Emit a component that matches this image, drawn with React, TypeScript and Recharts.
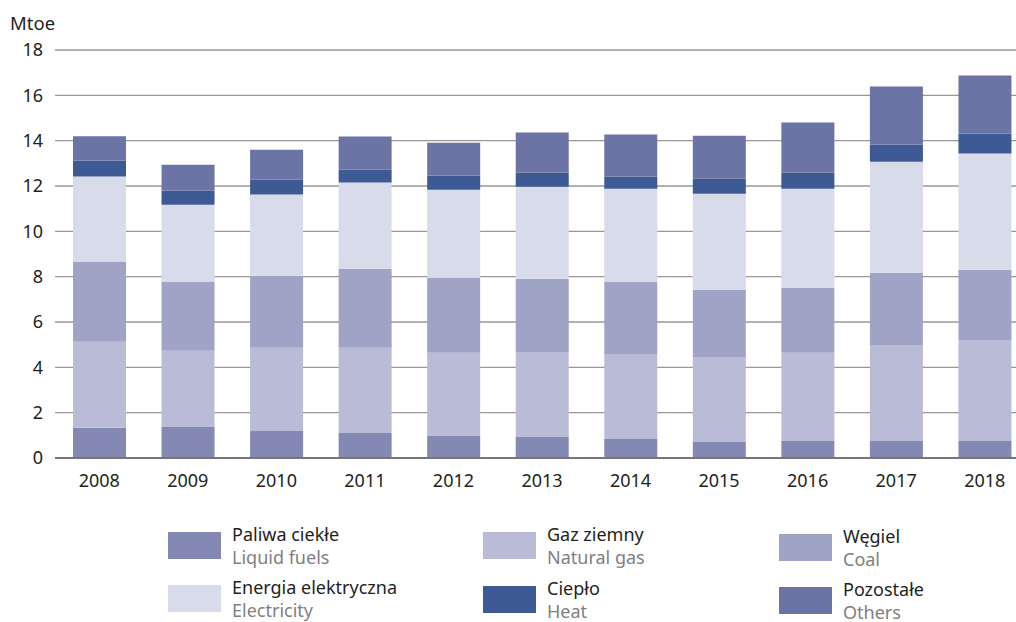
import { BarChart, Bar, XAxis, YAxis, CartesianGrid } from "recharts";

const years = ["2008", "2009", "2010", "2011", "2012", "2013", "2014", "2015", "2016", "2017", "2018"];
const liquidFuels = [1.33, 1.37, 1.19, 1.1, 0.97, 0.93, 0.84, 0.71, 0.75, 0.75, 0.75];
const naturalGas = [3.8, 3.36, 3.67, 3.76, 3.67, 3.75, 3.75, 3.75, 3.89, 4.24, 4.46];
const coal = [3.54, 3.04, 3.18, 3.49, 3.31, 3.23, 3.18, 2.96, 2.87, 3.18, 3.09];
const electricity = [3.75, 3.4, 3.58, 3.8, 3.89, 4.06, 4.11, 4.24, 4.37, 4.9, 5.13];
const heat = [0.71, 0.62, 0.66, 0.57, 0.62, 0.62, 0.53, 0.66, 0.71, 0.76, 0.88];
const others = [1.06, 1.15, 1.32, 1.46, 1.45, 1.77, 1.86, 1.9, 2.21, 2.56, 2.56];
const yTicks = [0, 2, 4, 6, 8, 10, 12, 14, 16, 18];

// stacking order, bottom to top
const SERIES = [
  { key: "liquid", pl: "Paliwa ciekłe", en: "Liquid fuels", color: "#8389b3", values: liquidFuels },
  { key: "gas", pl: "Gaz ziemny", en: "Natural gas", color: "#babcd7", values: naturalGas },
  { key: "coal", pl: "Węgiel", en: "Coal", color: "#9fa3c5", values: coal },
  { key: "elec", pl: "Energia elektryczna", en: "Electricity", color: "#d8dbea", values: electricity },
  { key: "heat", pl: "Ciepło", en: "Heat", color: "#3e5a94", values: heat },
  { key: "others", pl: "Pozostałe", en: "Others", color: "#6b74a5", values: others },
];

// legend reading order: row 1 then row 2
const LEGEND_ORDER = ["liquid", "gas", "coal", "elec", "heat", "others"];

const FONT = "'Noto Sans', sans-serif";

const data = years.map((year, i) => {
  const row: Record<string, string | number> = { year };
  SERIES.forEach((s) => {
    row[s.key] = s.values[i];
  });
  return row;
});

function LegendBlock() {
  const colX = [168, 483, 779];
  const rowY = [532, 585];
  return (
    <>
      {LEGEND_ORDER.map((key, idx) => {
        const s = SERIES.find((x) => x.key === key)!;
        const col = idx % 3;
        const row = Math.floor(idx / 3);
        const top = rowY[row] + (col === 2 ? 2 : 0) + (col === 1 && row === 1 ? 1 : 0);
        const left = colX[col];
        const textStyle = {
          position: "absolute" as const,
          left: left + 64,
          fontFamily: FONT,
          fontSize: 18,
          lineHeight: "21px",
          whiteSpace: "nowrap" as const,
        };
        return (
          <div key={key}>
            <div
              style={{
                position: "absolute",
                left,
                top,
                width: 53,
                height: 27,
                background: s.color,
              }}
            />
            <div style={{ ...textStyle, top: top - 8.5, color: "#231f20" }}>{s.pl}</div>
            <div style={{ ...textStyle, top: top + 14.5, color: "#808080" }}>{s.en}</div>
          </div>
        );
      })}
    </>
  );
}

export default function App() {
  return (
    <div
      style={{
        position: "absolute",
        left: 0,
        top: 0,
        width: 1016,
        height: 622,
        overflow: "hidden",
        background: "#fff",
      }}
    >
      <div
        style={{
          position: "absolute",
          left: 10,
          top: 10,
          fontFamily: FONT,
          fontSize: 18.5,
          color: "#231f20",
        }}
      >
        Mtoe
      </div>
      <div style={{ position: "absolute", left: 0, top: 0 }}>
        <BarChart
          width={1040}
          height={500}
          data={data}
          margin={{ top: 50, right: 11, bottom: 12, left: 0 }}
          barSize={53}
        >
          <CartesianGrid vertical={false} stroke="#999" strokeWidth={1.3} />
          <XAxis
            dataKey="year"
            height={30}
            tickLine={false}
            axisLine={{ stroke: "#777", strokeWidth: 2 }}
            tickMargin={10}
            tick={{ fill: "#231f20", fontSize: 18, fontFamily: FONT }}
            interval={0}
          />
          <YAxis
            width={55}
            domain={[0, 18]}
            ticks={yTicks}
            tickLine={false}
            axisLine={false}
            tickMargin={6}
            tick={{ fill: "#231f20", fontSize: 18, fontFamily: FONT }}
          />
          {SERIES.map((s) => (
            <Bar key={s.key} dataKey={s.key} stackId="a" fill={s.color} isAnimationActive={false} />
          ))}
        </BarChart>
      </div>
      <LegendBlock />
    </div>
  );
}
